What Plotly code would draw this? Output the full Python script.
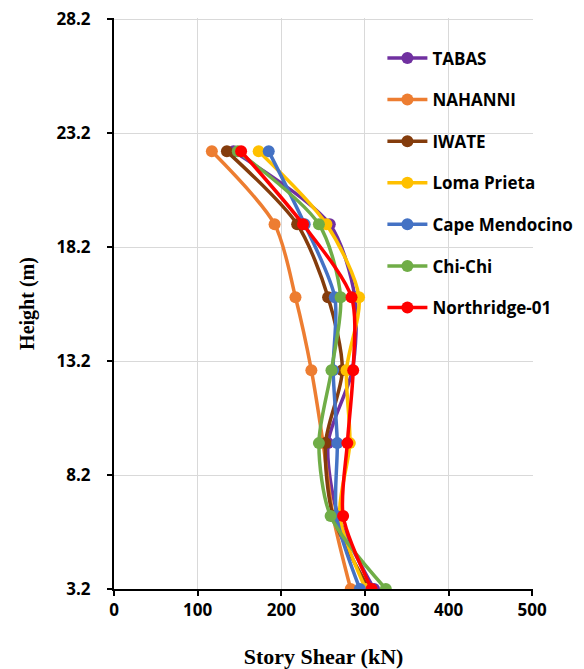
import plotly.graph_objects as go

heights = [3.2, 6.4, 9.6, 12.8, 16.0, 19.2, 22.4]
tabas = [311, 268, 256, 285, 288, 258, 143]
nahanni = [283, 262, 250, 236, 217, 192, 117]
iwate = [305, 262, 253, 273, 256, 219, 135]
loma_prieta = [301, 270, 282, 278, 293, 254, 173]
cape_mendocino = [294, 266, 267, 262, 264, 228, 185]
chi_chi = [325, 259, 245, 260, 271, 245, 148]
northridge = [308, 274, 279, 286, 284, 226, 152]

series = [
    ("TABAS", tabas, "#7030A0"),
    ("NAHANNI", nahanni, "#ED7D31"),
    ("IWATE", iwate, "#843C0C"),
    ("Loma Prieta", loma_prieta, "#FFC000"),
    ("Cape Mendocino", cape_mendocino, "#4472C4"),
    ("Chi-Chi", chi_chi, "#70AD47"),
    ("Northridge-01", northridge, "#FF0000"),
]

x_ticks = [0, 100, 200, 300, 400, 500]
y_ticks = [3.2, 8.2, 13.2, 18.2, 23.2, 28.2]

fig = go.Figure()
for name, vals, color in series:
    fig.add_trace(go.Scatter(
        x=vals, y=heights, name=name, mode="lines+markers",
        line=dict(color=color, width=3.5, shape="spline", smoothing=0.8),
        marker=dict(color=color, size=12),
        legendgroup=name,
    ))

tick_font = dict(family="Open Sans", size=17, color="black", weight="bold")

fig.update_layout(
    width=576, height=661,
    margin=dict(l=106, r=51, t=10, b=80, autoexpand=False),
    paper_bgcolor="white", plot_bgcolor="white",
    showlegend=True,
    legend=dict(
        xref="container", yref="container",
        x=0.650, y=0.951, xanchor="left", yanchor="top",
        font=dict(family="Open Sans", size=17, color="black", weight="bold"),
        bgcolor="rgba(0,0,0,0)", tracegroupgap=16.5,
        itemwidth=40,
    ),
    xaxis=dict(
        range=[0, 501], tickvals=x_ticks, ticktext=[str(v) for v in x_ticks],
        showgrid=True, gridcolor="#d9d9d9", gridwidth=1,
        showline=True, linecolor="black", linewidth=2,
        ticks="outside", ticklen=5, tickcolor="black", tickwidth=2,
        tickfont=tick_font, zeroline=False, automargin=False,
        ticklabeloverflow="allow",
        title=dict(text="Story Shear (kN)", standoff=28,
                   font=dict(family="Liberation Serif", size=22, color="black", weight="bold")),
    ),
    yaxis=dict(
        range=[3.2, 28.25], tickvals=y_ticks, ticktext=["%.1f" % v for v in y_ticks],
        showgrid=True, gridcolor="#d9d9d9", gridwidth=1,
        showline=True, linecolor="black", linewidth=2,
        ticks="outside", ticklen=5, tickcolor="black", tickwidth=2,
        tickfont=tick_font, zeroline=False, ticklabelstandoff=13, automargin=False,
        ticklabeloverflow="allow",
        title=dict(text="Height (m)", standoff=17,
                   font=dict(family="Liberation Serif", size=20, color="black", weight="bold")),
    ),
)

fig.write_html("out.html")
